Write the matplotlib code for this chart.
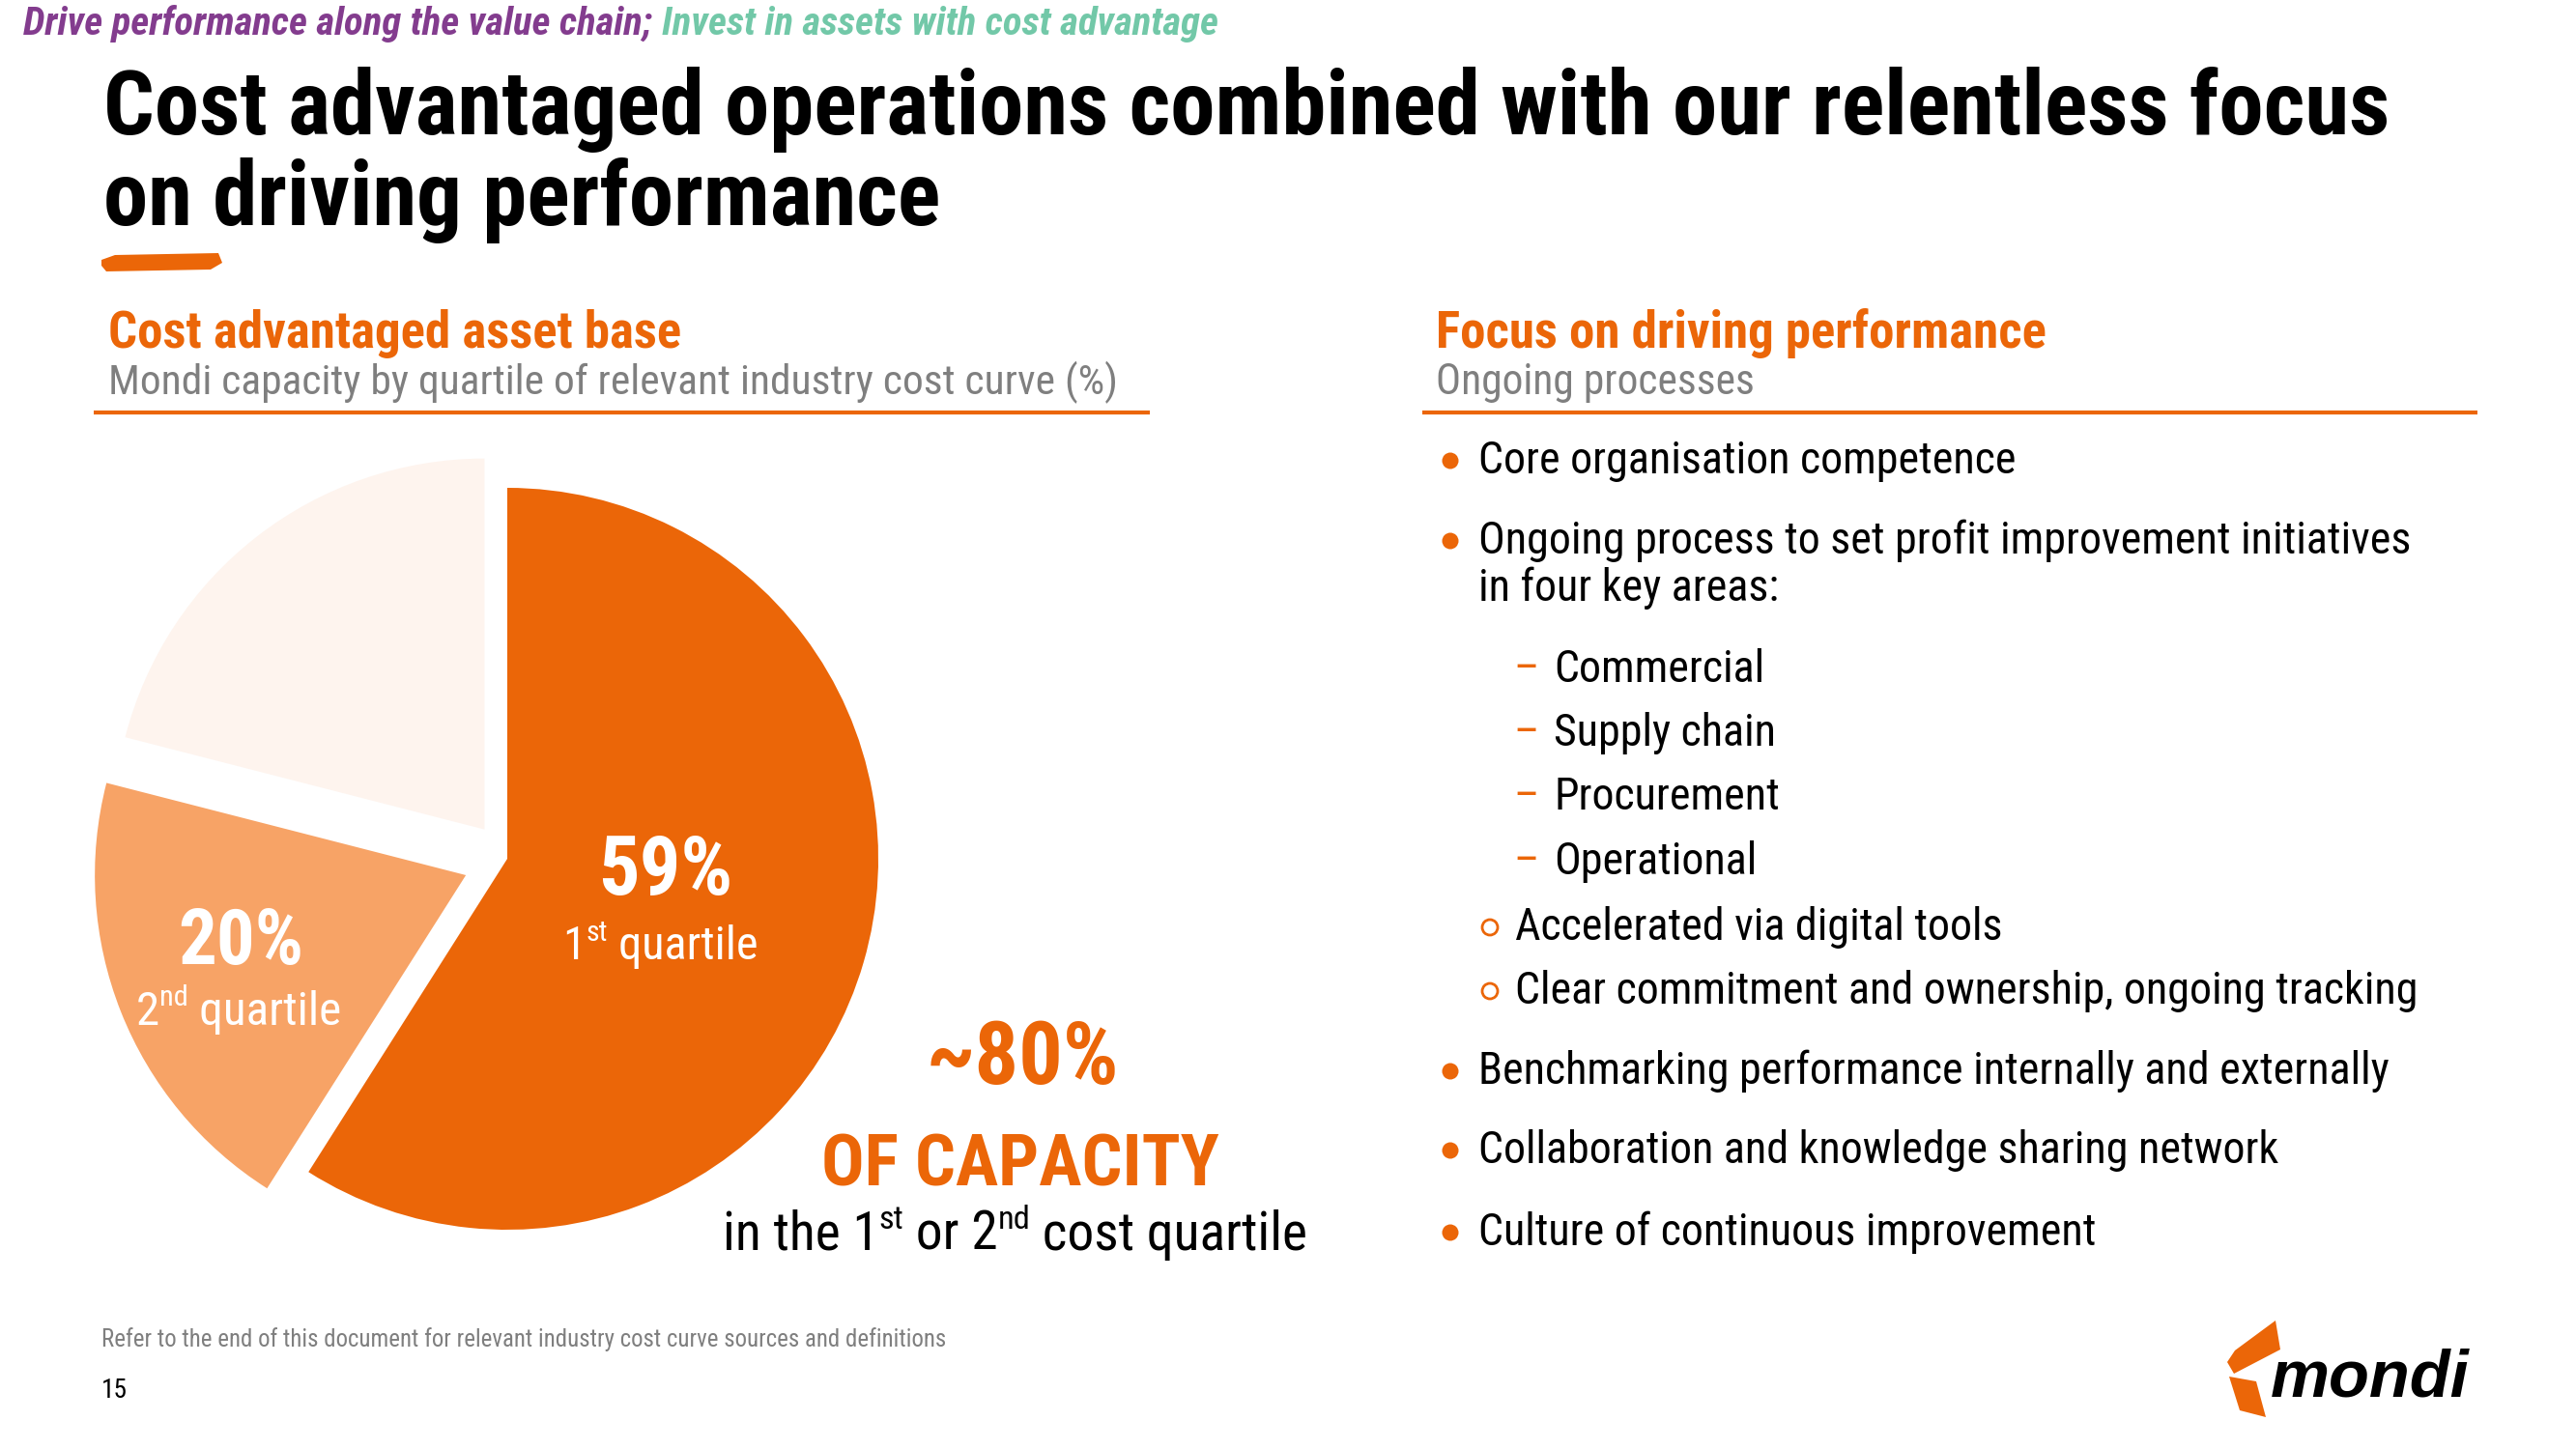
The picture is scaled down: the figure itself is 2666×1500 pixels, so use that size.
import matplotlib
matplotlib.use('Agg')
import matplotlib.pyplot as plt
from matplotlib import font_manager as fm
from matplotlib.patches import Polygon, Circle

# ---------------- data ----------------
quartile_labels = ['1st quartile', '2nd quartile', '3rd/4th quartile']
capacity_share = [59, 20, 21]

tagline_a = 'Drive performance along the value chain;'
tagline_b = 'Invest in assets with cost advantage'
title_lines = ['Cost advantaged operations combined with our relentless focus',
               'on driving performance']
left_head = 'Cost advantaged asset base'
left_sub = 'Mondi capacity by quartile of relevant industry cost curve (%)'
right_head = 'Focus on driving performance'
right_sub = 'Ongoing processes'
bullets = [
    ('dot', 'Core organisation competence'),
    ('dot', 'Ongoing process to set profit improvement initiatives'),
    ('cont', 'in four key areas:'),
    ('dash', 'Commercial'),
    ('dash', 'Supply chain'),
    ('dash', 'Procurement'),
    ('dash', 'Operational'),
    ('ring', 'Accelerated via digital tools'),
    ('ring', 'Clear commitment and ownership, ongoing tracking'),
    ('dot', 'Benchmarking performance internally and externally'),
    ('dot', 'Collaboration and knowledge sharing network'),
    ('dot', 'Culture of continuous improvement'),
]
footnote = 'Refer to the end of this document for relevant industry cost curve sources and definitions'
page_no = '15'

# ---------------- style ----------------
ORANGE = '#EB6608'
ORANGE_MID = '#F7A366'
ORANGE_LIGHT = '#FEF4EE'
PURPLE = '#833C8E'
GREEN = '#72C8A8'
GRAY = '#7F7F7F'

W, H = 2666, 1500
fig = plt.figure(figsize=(W / 100, H / 100), dpi=100)
fig.patch.set_facecolor('white')


def find_condensed():
    cands = [('Liberation Sans Narrow', 'normal'), ('Roboto Condensed', 'normal'),
             ('Open Sans Condensed', 'normal'), ('Noto Sans', 'condensed'),
             ('DejaVu Sans', 'condensed'), ('Open Sans', 'condensed'),
             ('Roboto', 'condensed'), ('Noto Sans Display', 'condensed')]
    for fam, st in cands:
        try:
            p = fm.findfont(fm.FontProperties(family=fam, stretch=st),
                            fallback_to_default=False)
        except Exception:
            continue
        pl = p.lower()
        if 'narrow' in pl or 'cond' in pl:
            return fam, st
    return 'Liberation Sans', 'normal'


NFAM, NSTRETCH = find_condensed()
FN = dict(family=[NFAM, 'DejaVu Sans'], stretch=NSTRETCH)
plt.rcParams['font.family'] = [NFAM, 'DejaVu Sans']

renderer = fig.canvas.get_renderer()


def put(x, y, s, width=None, size=20, ha='left', **kw):
    args = dict(FN)
    args.update(kw)
    t = fig.text(x / W, 1 - y / H, s, ha=ha, va='baseline', fontsize=size, **args)
    if width:
        w = t.get_window_extent(renderer).width
        t.set_fontsize(t.get_fontsize() * width / w)
    return t


def put_runs(x, y, runs, width, ha='left', **kw):
    args = dict(FN)
    args.update(kw)
    size0 = 20
    widths = []
    for s, sup in runs:
        t = fig.text(0, 0, s, fontsize=size0 * (0.62 if sup else 1), **args)
        widths.append(t.get_window_extent(renderer).width)
        t.remove()
    k = width / sum(widths)
    size = size0 * k
    cur = x - width / 2 if ha == 'center' else x
    for (s, sup), w in zip(runs, widths):
        fs = size * (0.62 if sup else 1)
        dy = size * 0.40 * 100 / 72 if sup else 0
        fig.text(cur / W, 1 - (y - dy) / H, s, fontsize=fs, va='baseline', ha='left', **args)
        cur += w * k


# background overlay axes in pixel coordinates
bg = fig.add_axes([0, 0, 1, 1])
bg.set_xlim(0, W)
bg.set_ylim(H, 0)
bg.axis('off')
bg.set_zorder(0)

# ---------------- header ----------------
tmp = put(24, 36, tagline_a + ' ' + tagline_b, width=1236, fontweight='bold', style='italic')
tag_size = tmp.get_fontsize()
tmp.remove()
ta = put(24, 36, tagline_a, size=tag_size, fontweight='bold', style='italic', color=PURPLE)
x1 = ta.get_window_extent(renderer).x1
put(x1 + 10, 36, tagline_b, size=tag_size, fontweight='bold', style='italic', color=GREEN)

t1 = put(107, 139, title_lines[0], width=2364, fontweight='bold', color='black')
put(107, 233, title_lines[1], size=t1.get_fontsize(), fontweight='bold', color='black')

bg.add_patch(Polygon([(105, 269), (119, 264), (226, 262), (230, 272), (218, 279),
                      (110, 281), (105, 275)], closed=True, color=ORANGE, lw=0))

# ---------------- section headers ----------------
hl = put(112, 360, left_head, width=592, fontweight='bold', color=ORANGE)
put(112, 408, left_sub, width=1042, color=GRAY)
bg.plot([97, 1190], [427, 427], color=ORANGE, lw=3, solid_capstyle='butt')

put(1486, 360, right_head, size=hl.get_fontsize(), fontweight='bold', color=ORANGE)
put(1486, 408, right_sub, width=330, color=GRAY)
bg.plot([1472, 2564], [427, 427], color=ORANGE, lw=3, solid_capstyle='butt')

# ---------------- bullets ----------------
tb = put(1530, -100, bullets[1][1], width=964)
bsize = tb.get_fontsize()
tb.remove()
baselines = [490, 573, 622, 706, 772, 838, 905, 973, 1039, 1122, 1204, 1289]
for (kind, txt), yb in zip(bullets, baselines):
    if kind in ('dot', 'cont'):
        put(1530, yb, txt, size=bsize, color='black')
        if kind == 'dot':
            bg.add_patch(Circle((1501, yb - 13), 8.5, color=ORANGE, lw=0))
    elif kind == 'dash':
        put(1566, yb, '\u2013', size=bsize, color=ORANGE)
        put(1608, yb, txt, size=bsize, color='black')
    elif kind == 'ring':
        bg.add_patch(Circle((1542, yb - 13), 8, facecolor='none', edgecolor=ORANGE, lw=2))
        put(1568, yb, txt, size=bsize, color='black')

# ---------------- pie ----------------
S = 1000
cx, cy, R = 525, 889, 384
ax = fig.add_axes([(cx - S / 2) / W, (H - cy - S / 2) / H, S / W, S / H])
ax.set_zorder(1)
ax.pie(capacity_share, colors=[ORANGE, ORANGE_MID, ORANGE_LIGHT], startangle=90,
       counterclock=False, explode=[0, 0.12, 0.10], radius=1,
       wedgeprops=dict(linewidth=0))
L = S / 2 / R
ax.set_xlim(-L, L)
ax.set_ylim(-L, L)
ax.axis('off')

put(689, 926, f'{capacity_share[0]}%', width=140, ha='center', color='white', fontweight='bold')
put_runs(683, 993, [('1', False), ('st', True), (' quartile', False)], 201, ha='center', color='white')
put(249, 998, f'{capacity_share[1]}%', width=130, ha='center', color='white', fontweight='bold')
put_runs(247, 1061, [('2', False), ('nd', True), (' quartile', False)], 212, ha='center', color='white')

put(1058, 1122, '~80%', width=200, ha='center', color=ORANGE, fontweight='bold')
put(1056, 1228, 'OF CAPACITY', width=411, ha='center', color=ORANGE, fontweight='bold')
put_runs(1050, 1294, [('in the 1', False), ('st', True), (' or 2', False), ('nd', True),
                      (' cost quartile', False)], 604, ha='center', color='black')

# ---------------- footer ----------------
put(105, 1394, footnote, width=874, color=GRAY)
put(105, 1447, page_no, width=27, color='black')

# logo
bg.add_patch(Polygon([(2305, 1410), (2313, 1398), (2355, 1367), (2360, 1397), (2312, 1422)],
                     closed=True, color=ORANGE, lw=0))
bg.add_patch(Polygon([(2307, 1425), (2335, 1430), (2345, 1467), (2318, 1460)],
                     closed=True, color=ORANGE, lw=0))
put(2350, 1446, 'mondi', width=206, color='black', fontweight='heavy', style='italic',
    family=['Liberation Sans', 'DejaVu Sans'], stretch='normal')

fig.savefig('out.png', dpi=100, facecolor='white')
